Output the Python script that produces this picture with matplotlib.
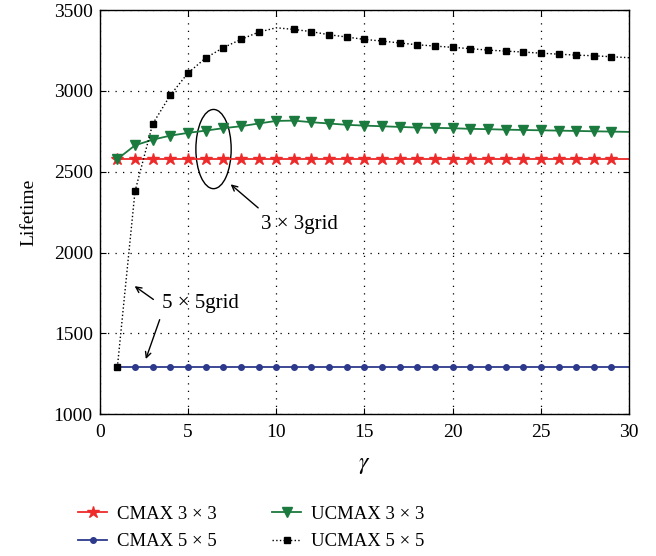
import matplotlib
matplotlib.use("Agg")
import matplotlib.pyplot as plt
from matplotlib.patches import Ellipse
import numpy as np

plt.rcParams['font.family'] = ['Liberation Serif', 'DejaVu Serif']
plt.rcParams['mathtext.fontset'] = 'stix'

gamma = list(range(1, 31))
cmax_3x3 = [2578] * 30
cmax_5x5 = [1290] * 30
ucmax_3x3 = [2578, 2663, 2698, 2723, 2740, 2754, 2769, 2781, 2798, 2814,
             2816, 2806, 2798, 2790, 2785, 2781, 2777, 2773, 2771, 2769,
             2765, 2763, 2760, 2758, 2756, 2754, 2752, 2750, 2748, 2746]
ucmax_5x5 = [1290, 2378, 2795, 2973, 3110, 3203, 3267, 3318, 3363, 3390,
             3380, 3366, 3347, 3333, 3318, 3308, 3296, 3285, 3277, 3269,
             3261, 3252, 3246, 3240, 3233, 3227, 3221, 3217, 3211, 3205]
labels = ['CMAX 3 × 3', 'CMAX 5 × 5', 'UCMAX 3 × 3', 'UCMAX 5 × 5']

red = '#ee2a2a'
blue = '#2d3a8c'
green = '#1b7a3e'

fig = plt.figure(figsize=(6.56, 5.56), dpi=100)
ax = fig.add_axes([0.152, 0.255, 0.807, 0.727])

mk = list(range(0, 29))
l1, = ax.plot(gamma, cmax_3x3, color=red, lw=1.3, marker='*', ms=9, markevery=mk, label=labels[0])
l2, = ax.plot(gamma, cmax_5x5, color=blue, lw=1.3, marker='o', ms=4, markevery=mk, label=labels[1])
l3, = ax.plot(gamma, ucmax_3x3, color=green, lw=1.3, marker='v', ms=7.5, markevery=mk, label=labels[2])
mk_b = [i for i in range(0, 29) if i != 9]
l4, = ax.plot(gamma, ucmax_5x5, color='black', lw=1.0, ls=':', marker='s', ms=5, markevery=mk_b, label=labels[3])

ax.set_xlim(0, 30)
ax.set_ylim(1000, 3500)
ax.set_xticks(range(0, 31, 5))
ax.set_yticks(range(1000, 3501, 500))
ax.grid(True, ls=(0, (1, 5)), color='black', lw=0.9)
ax.tick_params(direction='in', top=True, right=True, labelsize=14, length=4, pad=5)
ax.tick_params(axis='x', pad=7)
for s in ax.spines.values():
    s.set_linewidth(1.0)
ax.set_xlabel(r'$\gamma$', fontsize=17, labelpad=10)
ax.set_ylabel('Lifetime', fontsize=14, labelpad=12)

ax.add_patch(Ellipse((6.45, 2640), 2.0, 490, fill=False, ec='black', lw=1.0))
ax.annotate('', xy=(7.3, 2433), xytext=(9.1, 2265),
            arrowprops=dict(arrowstyle='->', color='black', lw=1.0))
ax.text(11.3, 2174, '3 × 3grid', fontsize=15, ha='center', va='center')

ax.text(5.7, 1682, '5 × 5grid', fontsize=15, ha='center', va='center')
ax.annotate('', xy=(1.85, 1802), xytext=(3.17, 1700),
            arrowprops=dict(arrowstyle='->', color='black', lw=1.0))
ax.annotate('', xy=(2.56, 1325), xytext=(3.45, 1601),
            arrowprops=dict(arrowstyle='->', color='black', lw=1.0))

common = dict(loc='lower left', frameon=False, fontsize=13.5, handlelength=1.55,
              handletextpad=0.55, labelspacing=0.55, borderpad=0, borderaxespad=0)
fig.legend(handles=[l1, l2], bbox_to_anchor=(78 / 656, 0.010), **common)
fig.legend(handles=[l3, l4], bbox_to_anchor=(272 / 656, 0.010), **common)

fig.savefig('out.png', dpi=100)
